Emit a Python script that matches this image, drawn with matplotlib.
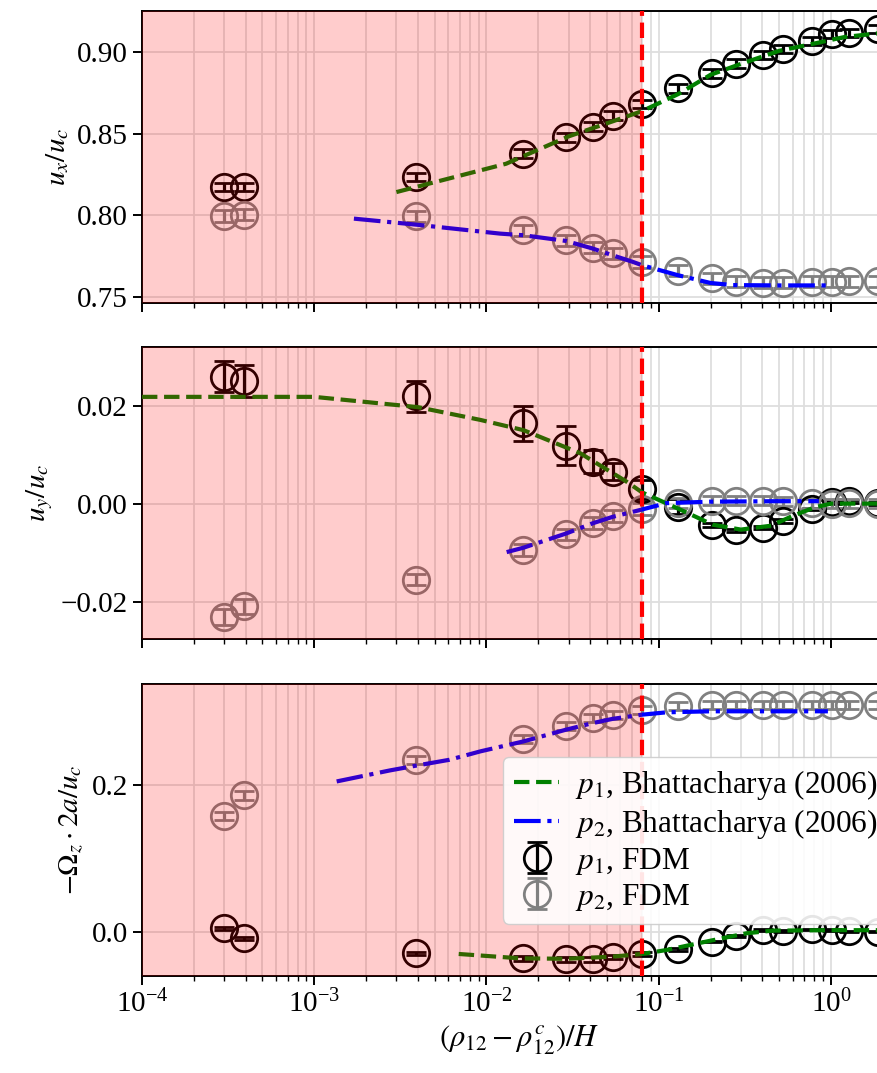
import numpy as np
import matplotlib
matplotlib.use("Agg")
import matplotlib.pyplot as plt
from matplotlib.ticker import FixedLocator, FuncFormatter

# ---------------------------------------------------------------- data
# separation distance (rho_12 - rho_12^c)/H of the FDM runs
x_fdm = [3.0e-4, 3.9e-4, 3.9e-3, 0.0164, 0.029, 0.0415, 0.054, 0.080,
         0.129, 0.203, 0.281, 0.405, 0.525, 0.776, 1.02, 1.27, 1.87]

# u_x / u_c
ux_p1 = [0.8173, 0.8173, 0.8234, 0.8378, 0.8479, 0.8545, 0.8612, 0.8684,
         0.8779, 0.8871, 0.8932, 0.8985, 0.9024, 0.9071, 0.9116, 0.9120, 0.9143]
ux_p1_err = [0.0026, 0.0026, 0.0026, 0.0027, 0.0026, 0.0026, 0.0026, 0.0026,
             0.0025, 0.0025, 0.0025, 0.0025, 0.0025, 0.0025, 0.0025, 0.0025, 0.0025]
ux_p2 = [0.7996, 0.8004, 0.7994, 0.7908, 0.7847, 0.7802, 0.7766, 0.7714,
         0.7659, 0.7613, 0.7592, 0.7586, 0.7586, 0.7592, 0.7592, 0.7596, 0.7596]
ux_p2_err = [0.0035, 0.0035, 0.0034, 0.0034, 0.0034, 0.0034, 0.0034, 0.0034,
             0.0034, 0.0034, 0.0034, 0.0034, 0.0034, 0.0034, 0.0034, 0.0034, 0.0034]

# u_y / u_c
uy_p1 = [0.0259, 0.0251, 0.0219, 0.0164, 0.0118, 0.0086, 0.0065, 0.0029,
         -0.0006, -0.0043, -0.0054, -0.0049, -0.0035, -0.0011, 0.0003, 0.0005, 0.0001]
uy_p1_err = [0.0032, 0.0033, 0.0031, 0.0036, 0.0040, 0.0024, 0.0017, 0.0020,
             0.0015, 0.0004, 0.0003, 0.0003, 0.0004, 0.0003, 0.0003, 0.0003, 0.0003]
uy_p2 = [-0.0231, -0.0210, -0.0155, -0.0095, -0.0063, -0.0039, -0.0026, -0.0011,
         0.0001, 0.0006, 0.0006, 0.0006, 0.0005, 0.0001, 0.0000, 0.0001, 0.0000]
uy_p2_err = [0.0016, 0.0016, 0.0012, 0.0012, 0.0012, 0.0012, 0.0012, 0.0012,
             0.0010, 0.0009, 0.0009, 0.0009, 0.0009, 0.0009, 0.0009, 0.0009, 0.0009]

# -Omega_z * 2a / u_c
om_p1 = [0.0046, -0.0090, -0.0295, -0.0363, -0.0377, -0.0377, -0.0349, -0.0304,
         -0.0240, -0.0136, -0.0059, 0.0020, 0.0010, 0.0030, 0.0023, 0.0005, 0.0000]
om_p1_err = [0.002, 0.002, 0.002, 0.003, 0.003, 0.003, 0.003, 0.003,
             0.002, 0.001, 0.001, 0.001, 0.001, 0.001, 0.001, 0.001, 0.001]
om_p2 = [0.1577, 0.1854, 0.2331, 0.2623, 0.2795, 0.2909, 0.2954, 0.3023,
         0.3068, 0.3091, 0.3091, 0.3091, 0.3091, 0.3091, 0.3091, 0.3091, 0.3091]
om_p2_err = [0.0055, 0.0055, 0.0055, 0.0055, 0.0055, 0.0055, 0.0055, 0.0055,
             0.0055, 0.0055, 0.0055, 0.0055, 0.0055, 0.0055, 0.0055, 0.0055, 0.0055]

# Bhattacharya (2006) reference curves
bh_ux_p1_x = [0.003, 0.013, 0.03, 0.055, 0.08, 0.13, 0.2, 0.3, 0.5, 0.8, 1.2, 2.4]
bh_ux_p1 = [0.8143, 0.8317, 0.8485, 0.8580, 0.8640, 0.8745, 0.8863, 0.8930,
            0.9010, 0.9055, 0.9095, 0.9130]
bh_ux_p2_x = [0.0017, 0.004, 0.012, 0.0164, 0.029, 0.0415, 0.054, 0.071,
              0.08, 0.129, 0.2, 0.27, 0.5, 1.0]
bh_ux_p2 = [0.7980, 0.7942, 0.7888, 0.7878, 0.7843, 0.7796, 0.7755, 0.7714,
            0.7694, 0.7633, 0.7585, 0.7572, 0.7570, 0.7570]

bh_uy_p1_x = [1e-4, 1e-3, 0.004, 0.0092, 0.0164, 0.035, 0.065, 0.08, 0.133,
              0.206, 0.3, 0.45, 0.6, 0.8, 1.0, 2.4]
bh_uy_p1 = [0.0218, 0.0218, 0.0197, 0.0171, 0.0150, 0.0103, 0.0045, 0.0023,
            -0.0012, -0.0043, -0.0053, -0.0045, -0.0025, -0.0008, 0.0000, 0.0000]
bh_uy_p2_x = [0.0131, 0.0164, 0.029, 0.0415, 0.054, 0.08, 0.111, 0.2, 0.5, 0.85]
bh_uy_p2 = [-0.0099, -0.0090, -0.0061, -0.0040, -0.0027, -0.0012, 0.0001,
            0.0004, 0.0005, 0.0005]

bh_om_p1_x = [0.0069, 0.0156, 0.029, 0.054, 0.08, 0.111, 0.2, 0.324, 0.46, 1.0, 2.4]
bh_om_p1 = [-0.0304, -0.0363, -0.0370, -0.0340, -0.0304, -0.0250, -0.0123,
            -0.0022, 0.0014, 0.0020, 0.0020]
bh_om_p2_x = [0.00135, 0.00275, 0.0039, 0.0061, 0.0092, 0.0164, 0.029, 0.0415,
              0.054, 0.08, 0.111, 0.2, 0.96]
bh_om_p2 = [0.2045, 0.2195, 0.2260, 0.2340, 0.2454, 0.2590, 0.2750, 0.2840,
            0.2897, 0.2954, 0.2986, 0.3000, 0.3000]

x_crit = 0.08
x_limits = (1e-4, 2.4)

ylabels = [r"$u_x/u_c$", r"$u_y/u_c$", r"$-\Omega_z \cdot 2a/u_c$"]
yticks = [[0.75, 0.80, 0.85, 0.90], [-0.02, 0.00, 0.02], [0.0, 0.2]]
ydecimals = [2, 2, 1]
ylims = [(0.746, 0.9255), (-0.0277, 0.032), (-0.0604, 0.3377)]

# ---------------------------------------------------------------- style
plt.rcParams.update({
    "font.family": ["Liberation Serif", "DejaVu Serif"],
    "mathtext.fontset": "stix",
    "font.size": 21,
    "axes.linewidth": 1.4,
    "xtick.major.size": 6.5, "xtick.major.width": 1.4,
    "xtick.minor.size": 3.5, "xtick.minor.width": 1.0,
    "ytick.major.size": 6.5, "ytick.major.width": 1.4,
})


def tick_formatter(decimals):
    def fmt(v, pos):
        return f"{v:.{decimals}f}".replace("-", "\u2212")
    return FuncFormatter(fmt)


fig = plt.figure(figsize=(8.78, 10.73), dpi=100)

left = 0.1617
width = 0.8593
height = 0.2725
bottoms = [0.7173, 0.4042, 0.0904]

axes = []
for i, b in enumerate(bottoms):
    ax = fig.add_axes([left, b, width, height], sharex=axes[0] if axes else None)
    axes.append(ax)

series = [
    (ux_p1, ux_p1_err, ux_p2, ux_p2_err, bh_ux_p1_x, bh_ux_p1, bh_ux_p2_x, bh_ux_p2),
    (uy_p1, uy_p1_err, uy_p2, uy_p2_err, bh_uy_p1_x, bh_uy_p1, bh_uy_p2_x, bh_uy_p2),
    (om_p1, om_p1_err, om_p2, om_p2_err, bh_om_p1_x, bh_om_p1, bh_om_p2_x, bh_om_p2),
]

mk = dict(fmt="o", mfc="none", ms=19, mew=2.0, elinewidth=2.3,
          capsize=7, capthick=2.4, zorder=2)

for i, ax in enumerate(axes):
    p1, e1, p2, e2, g_x, g_y, b_x, b_y = series[i]
    ax.set_xscale("log")
    lg, = ax.plot(g_x, g_y, ls="--", color="green", lw=3.0, zorder=3,
                  label=r"$p_1$, Bhattacharya (2006)")
    lb, = ax.plot(b_x, b_y, ls="-.", color="blue", lw=3.0, zorder=3,
                  label=r"$p_2$, Bhattacharya (2006)")
    h1 = ax.errorbar(x_fdm, p1, yerr=e1, color="black", label=r"$p_1$, FDM", **mk)
    h2 = ax.errorbar(x_fdm, p2, yerr=e2, color="gray", label=r"$p_2$, FDM", **mk)

    # region below the critical separation, tinted over the data
    ax.axvspan(1e-6, x_crit, color="red", alpha=0.2, lw=0, zorder=4)
    ax.axvline(x_crit, color="red", ls="--", lw=3.0, zorder=5)

    ax.set_xlim(*x_limits)
    ax.set_ylim(*ylims[i])
    ax.yaxis.set_major_locator(FixedLocator(yticks[i]))
    ax.yaxis.set_major_formatter(tick_formatter(ydecimals[i]))
    ax.set_ylabel(ylabels[i])
    ax.grid(True, which="both", axis="x", color="0.87", lw=1.3, zorder=1)
    ax.grid(True, which="major", axis="y", color="0.87", lw=1.3, zorder=1)
    ax.set_axisbelow(True)
    if i < 2:
        ax.tick_params(axis="x", which="both", labelbottom=False)

axes[2].set_xlabel(r"$\left(\rho_{12}-\rho_{12}^{c}\right)/H$", fontsize=22)

leg = axes[2].legend([lg, lb, h1, h2],
                     [lg.get_label(), lb.get_label(), r"$p_1$, FDM", r"$p_2$, FDM"],
                     loc="upper left", bbox_to_anchor=(0.5729, 0.2948),
                     bbox_transform=fig.transFigure, borderaxespad=0.0,
                     fontsize=22.5, handlelength=1.45, handletextpad=0.5,
                     labelspacing=0.16, borderpad=0.35, framealpha=0.9,
                     edgecolor="0.8")
leg.set_zorder(10)

fig.savefig("out.png", dpi=100)
